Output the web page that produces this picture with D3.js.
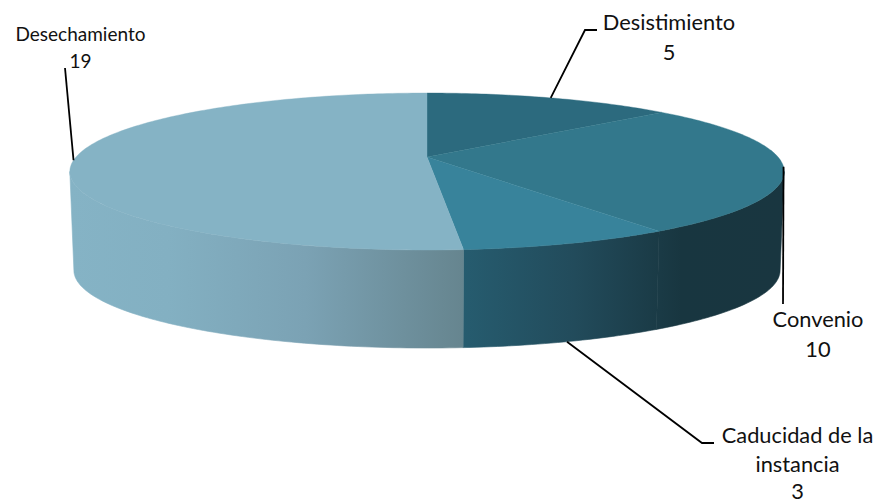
<!DOCTYPE html>
<html>
<head>
<meta charset="utf-8">
<script src="https://cdn.jsdelivr.net/npm/d3@7"></script>
<style>
  html, body { margin: 0; padding: 0; background: #fff; }
  svg { display: block; }
  text { font-family: Lato, "Open Sans", sans-serif; fill: #111; text-anchor: middle; }
</style>
</head>
<body>
<div id="GraphContainer"></div>
<script>
const categories = ['Desistimiento', 'Convenio', 'Caducidad de la instancia', 'Desechamiento'];
const values = [5, 10, 3, 19];
const topColors = ['#2c6a7e', '#33788c', '#38839b', '#85b3c5'];

const width = 877;
const height = 504;

const svg = d3.select('#GraphContainer')
  .append('svg')
  .attr('width', width)
  .attr('height', height);

const pie = d3.pie().sort(null).value(d => d);
const slices = pie(values);

// perspective view of a circle: k is the foreshortening towards the back
const k = 0.185;
const cx = 427;
const topDisc = { y: 157, a: 351, b: 75.8 };
const baseDisc = { y: 256, a: 347, b: 75 };

function project(disc, angle) {
  const u = Math.sin(angle);
  const v = -Math.cos(angle);
  const w = 1 - k * v;
  return [cx + disc.a * u / w, disc.y + disc.b * v / w];
}

function arcPoints(disc, start, end) {
  const n = Math.max(2, Math.ceil(Math.abs(end - start) * 60));
  return d3.range(n + 1).map(i => project(disc, start + (end - start) * i / n));
}

const line = d3.line();

// side wall only shows between the two widest points of the disc
const wallStart = Math.acos(-k);
const wallEnd = 2 * Math.PI - wallStart;

const defs = svg.append('defs');

const leftWall = defs.append('linearGradient')
  .attr('id', 'wallLeft')
  .attr('gradientUnits', 'userSpaceOnUse')
  .attr('x1', 70).attr('x2', 463).attr('y1', 0).attr('y2', 0);
leftWall.append('stop').attr('offset', '0').attr('stop-color', '#85b3c5');
leftWall.append('stop').attr('offset', '0.25').attr('stop-color', '#83b0c2');
leftWall.append('stop').attr('offset', '0.6').attr('stop-color', '#7ba2b4');
leftWall.append('stop').attr('offset', '1').attr('stop-color', '#66858f');

const rightWall = defs.append('linearGradient')
  .attr('id', 'wallRight')
  .attr('gradientUnits', 'userSpaceOnUse')
  .attr('x1', 463).attr('x2', 784).attr('y1', 0).attr('y2', 0);
rightWall.append('stop').attr('offset', '0').attr('stop-color', '#265c6f');
rightWall.append('stop').attr('offset', '0.35').attr('stop-color', '#224b5b');
rightWall.append('stop').attr('offset', '0.68').attr('stop-color', '#183640');
rightWall.append('stop').attr('offset', '1').attr('stop-color', '#193640');

const wallFill = ['none', 'url(#wallRight)', 'url(#wallRight)', 'url(#wallLeft)'];

// walls first, the tops go over them
slices.forEach((s, i) => {
  const start = Math.max(s.startAngle, wallStart);
  const end = Math.min(s.endAngle, wallEnd);
  if (end <= start) return;
  const pts = arcPoints(topDisc, start, end)
    .concat(arcPoints(baseDisc, end, start));
  svg.append('path')
    .attr('d', line(pts) + 'Z')
    .attr('fill', wallFill[i])
    .attr('stroke', wallFill[i])
    .attr('stroke-width', 0.6);
});

slices.forEach((s, i) => {
  const pts = [[cx, topDisc.y]].concat(arcPoints(topDisc, s.startAngle, s.endAngle));
  svg.append('path')
    .attr('d', line(pts) + 'Z')
    .attr('fill', topColors[i])
    .attr('stroke', topColors[i])
    .attr('stroke-width', 0.4);
});

// leader lines start on the rim at the middle of each slice
const mid = s => (s.startAngle + s.endAngle) / 2;
const leaders = [
  { from: project(topDisc, mid(slices[0])), via: [[585, 30], [597, 30]] },
  { from: project(topDisc, mid(slices[1])), via: [[783, 304]] },
  { from: project(baseDisc, mid(slices[2])), via: [[702, 443], [714, 443]] },
  { from: project(topDisc, mid(slices[3])), via: [[65, 68]] }
];

leaders.forEach(l => {
  svg.append('path')
    .attr('d', line([l.from].concat(l.via)))
    .attr('fill', 'none')
    .attr('stroke', '#000')
    .attr('stroke-width', 1.8);
});

const labels = [
  { x: 669, lines: [[categories[0], 30, 21.8], [values[0], 60, 21.8]] },
  { x: 818, lines: [[categories[1], 327, 21.8], [values[1], 357, 21.8]] },
  { x: 797.5, lines: [['Caducidad de la', 443, 21.8], ['instancia', 472, 21.8], [values[2], 499, 21.8]] },
  { x: 80.5, lines: [[categories[3], 41, 19], [values[3], 68, 19]] }
];

labels.forEach(l => {
  l.lines.forEach(t => {
    svg.append('text')
      .attr('x', l.x)
      .attr('y', t[1])
      .attr('font-size', t[2])
      .text(t[0]);
  });
});
</script>
</body>
</html>
